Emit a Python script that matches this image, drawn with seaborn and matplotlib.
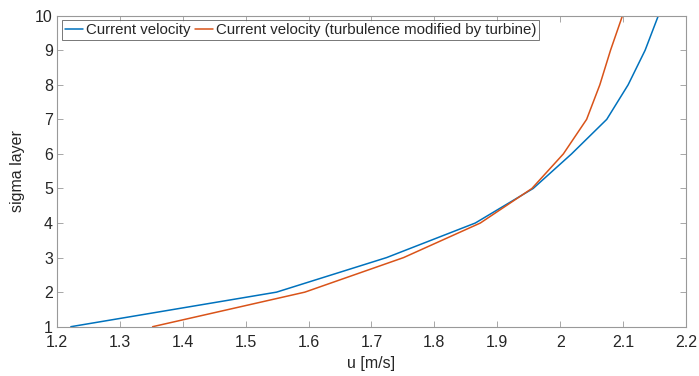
import pandas as pd
import matplotlib
matplotlib.use("Agg")
import matplotlib.pyplot as plt
import seaborn as sns

# sigma layers and velocities
sigma = [1, 2, 3, 4, 5, 6, 7, 8, 9, 10]
u_current = [1.222, 1.549, 1.724, 1.865, 1.957, 2.018, 2.074, 2.108, 2.135, 2.156]
u_turbine = [1.352, 1.594, 1.751, 1.873, 1.955, 2.005, 2.042, 2.063, 2.080, 2.099]
labels = ["Current velocity", "Current velocity (turbulence modified by turbine)"]
colors = ["#0072BD", "#D95319"]

df = pd.concat([
    pd.DataFrame({"u": u_current, "sigma": sigma, "series": labels[0]}),
    pd.DataFrame({"u": u_turbine, "sigma": sigma, "series": labels[1]}),
])

sns.set_style("white")
plt.rcParams["font.family"] = ["Liberation Sans", "DejaVu Sans"]

fig = plt.figure(figsize=(6.99, 3.76), dpi=100)
ax = fig.add_axes([57 / 699, 1 - 326.7 / 376, (686 - 57) / 699, 311 / 376])

sns.lineplot(data=df, x="u", y="sigma", hue="series", palette=colors,
             sort=False, estimator=None, linewidth=1.1, ax=ax)

ax.set_xlim(1.2, 2.2)
ax.set_ylim(1, 10)
ax.set_xticks([1.2, 1.3, 1.4, 1.5, 1.6, 1.7, 1.8, 1.9, 2.0, 2.1, 2.2])
ax.set_xticklabels(["1.2", "1.3", "1.4", "1.5", "1.6", "1.7", "1.8", "1.9", "2", "2.1", "2.2"])
ax.set_yticks(range(1, 11))
ax.set_xlabel("u [m/s]", fontsize=11.5, color="#262626", labelpad=4)
ax.set_ylabel("sigma layer", fontsize=11.5, color="#262626", labelpad=7)

for s in ax.spines.values():
    s.set_color("#999999")
    s.set_linewidth(0.8)
ax.tick_params(direction="in", length=4, width=0.6, color="#999999",
               labelsize=11.5, labelcolor="#262626", top=True, right=True,
               bottom=True, left=True)
ax.tick_params(axis="x", pad=6)
ax.tick_params(axis="y", pad=3)

leg = ax.legend(loc="upper left", ncol=2, fontsize=10.8, frameon=True,
                fancybox=False, handlelength=1.2, handletextpad=0.2,
                columnspacing=0.3, borderpad=0.2, borderaxespad=0.3)
leg.get_frame().set_edgecolor("#555555")
leg.get_frame().set_linewidth(0.7)

fig.savefig("out.png", dpi=100)
